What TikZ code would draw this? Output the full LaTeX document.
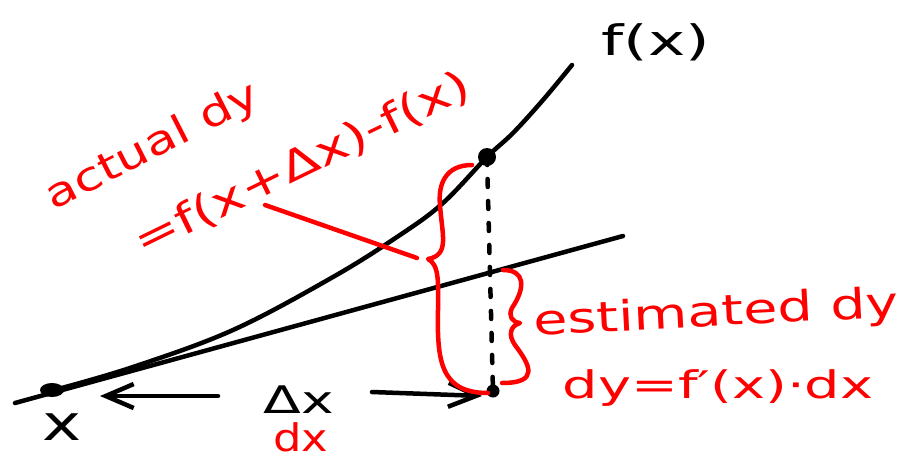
\documentclass[tikz,border=0pt]{standalone}
\usepackage{fontspec}
\setmainfont{DejaVu Sans}
\usetikzlibrary{arrows.meta}
\newcommand\handtxt[3]{\scalebox{#1}[1]{\fontsize{#2}{#2}\selectfont #3}}
\begin{document}
\begin{tikzpicture}[x=1pt,y=-1pt,
  ink/.style={line width=4.5pt, line cap=round, line join=round},
  redink/.style={ink, draw=red},
  txt/.style={inner sep=0pt, outer sep=0pt},
  barb/.style={-{Straight Barb[length=28pt,width=24pt,line width=4.5pt]}}]
\useasboundingbox[fill=white] (0,0) rectangle (908,461);
% points
\coordinate (P) at (52,390);
\coordinate (Q) at (487,157);
\coordinate (R) at (493,391);
\coordinate (T0) at (15,403);
\coordinate (T1) at (623,236);
% tangent line
\draw[ink] (T0) -- (T1);
% curve f(x)
\draw[ink] plot[smooth, tension=0.6] coordinates {(58,389) (133,367) (233,330) (333,277) (400,235) (443,203) (487,157) (513,133) (543,100) (572,65)};
% dots
\fill (P) ellipse[x radius=12pt, y radius=7pt];
\fill (Q) circle[radius=9pt];
\fill (R) circle[radius=6.5pt];
% dashed vertical
\draw[ink, dash pattern=on 8pt off 14pt] (Q) -- (R);
% arrows
\coordinate (LA0) at (218,396);
\coordinate (LA1) at (100,396);
\coordinate (RA0) at (372,392);
\coordinate (RA1) at (482,396);
\draw[ink, barb] (LA0) -- (LA1);
\draw[ink, barb] (RA0) -- (RA1);
% labels black
\node[txt, anchor=base] (fx) at (656,55) {\handtxt{1.5}{42}{f(x)}};
\node[txt, anchor=base] (DX) at (299,413) {\handtxt{1.45}{38}{Δx}};
\node[txt, anchor=base] (xl) at (62,440) {\handtxt{1.35}{49}{x}};
% labels red
\node[txt, text=red, anchor=base] (dX) at (301,451) {\handtxt{1.18}{38}{dx}};
\node[txt, text=red, anchor=base, rotate=27] (actual) at (158,157) {\handtxt{1.27}{40}{actual dy}};
\node[txt, text=red, anchor=base, rotate=26] (diff) at (308,176) {\handtxt{1.3}{42}{=f(x+Δx)-f(x)}};
\node[txt, text=red, anchor=base, rotate=3] (est) at (717,326) {\handtxt{1.32}{42}{estimated dy}};
\node[txt, text=red, anchor=base] (dyf) at (718,398) {\handtxt{1.47}{38}{dy=f′(x)·dx}};
% big brace
\draw[redink] (472,165) .. controls (445,165) and (438,185) .. (440,205)
  .. controls (442,235) and (450,255) .. (428,259)
  .. controls (440,265) and (438,285) .. (438,310)
  .. controls (437,360) and (440,393) .. (488,393);
% pointer line
\coordinate (L0) at (265,205);
\coordinate (L1) at (417,258);
\draw[redink] (L0) -- (L1);
% small brace
\draw[redink] (503,270) .. controls (525,270) and (526,287) .. (512,308)
  .. controls (508,316) and (512,322) .. (520,323)
  .. controls (510,326) and (508,335) .. (515,345)
  .. controls (530,365) and (540,383) .. (502,383);
\end{tikzpicture}
\end{document}
